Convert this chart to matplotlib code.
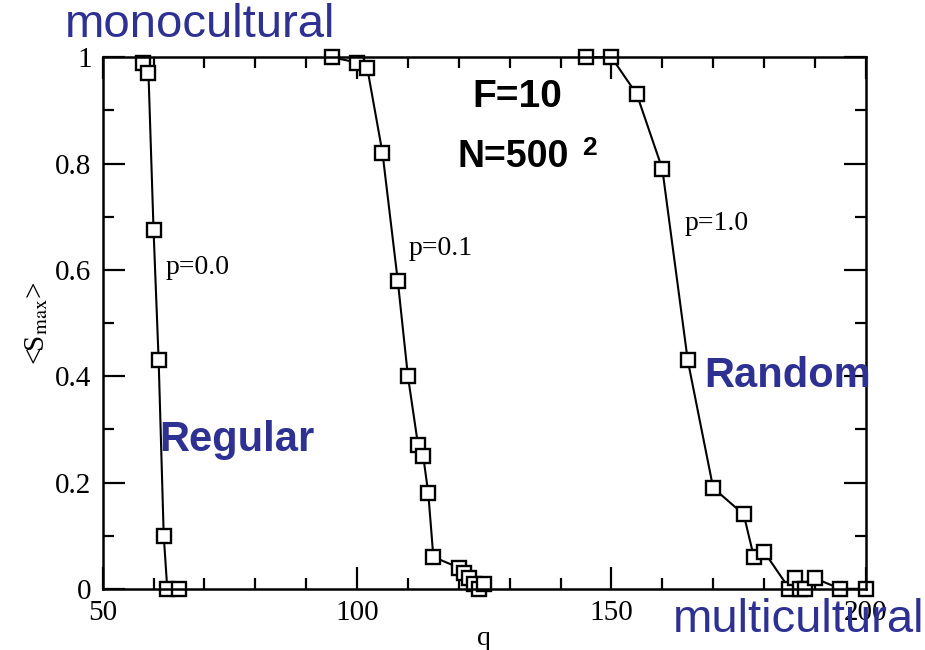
"""
Largest cultural domain <S_max> vs q for three rewiring probabilities
"""

import matplotlib
matplotlib.use("Agg")
import matplotlib.pyplot as plt
from matplotlib.ticker import MultipleLocator

# ---------- data ----------

q_p00 = [58, 59, 60, 61, 62, 62.7, 65]
s_p00 = [0.99, 0.97, 0.675, 0.43, 0.10, 0.0, 0.0]

q_p01 = [95, 100, 102, 105, 108, 110, 112, 113, 114, 115,
         120, 121, 122, 123, 124, 125]
s_p01 = [1.0, 0.99, 0.98, 0.82, 0.58, 0.40, 0.27, 0.25, 0.18, 0.06,
         0.04, 0.03, 0.02, 0.01, 0.0, 0.01]

q_p10 = [145, 150, 155, 160, 165, 170, 176, 178, 180,
         185, 186, 187, 188, 190, 195, 200]
s_p10 = [1.0, 1.0, 0.93, 0.79, 0.43, 0.19, 0.14, 0.06, 0.07,
         0.0, 0.02, 0.0, 0.0, 0.02, 0.0, 0.0]

x_ticks = [50, 100, 150, 200]
y_ticks = [0, 0.2, 0.4, 0.6, 0.8, 1.0]
y_tick_labels = ["0", "0.2", "0.4", "0.6", "0.8", "1"]

BLUE = "#2E3192"

# ---------- plot ----------

plt.rcParams["font.family"] = ["Liberation Serif", "DejaVu Serif"]
plt.rcParams["mathtext.fontset"] = "stix"

fig = plt.figure(figsize=(9.25, 6.5), dpi=100)
ax = fig.add_axes([0.111, 0.094, 0.825, 0.818])

for q, s in [(q_p00, s_p00), (q_p01, s_p01), (q_p10, s_p10)]:
    ax.plot(q, s, color="black", linewidth=1.5, marker="s",
            markersize=10, markerfacecolor="white",
            markeredgecolor="black", markeredgewidth=1.7, clip_on=False)

ax.set_xlim(50, 200)
ax.set_ylim(0, 1)
ax.set_xticks(x_ticks)
ax.set_yticks(y_ticks)
ax.set_yticklabels(y_tick_labels)
ax.xaxis.set_minor_locator(MultipleLocator(10))
ax.yaxis.set_minor_locator(MultipleLocator(0.1))
ax.tick_params(which="both", direction="in", top=True, right=True,
               width=1.6, labelsize=21, pad=8)
ax.tick_params(which="major", length=16)
ax.tick_params(which="minor", length=8)
for sp in ax.spines.values():
    sp.set_linewidth(1.8)

ax.set_xlabel("q", fontsize=20, labelpad=0)
ax.set_ylabel(r"<S$_{\rm max}$>", fontsize=21, labelpad=4)

# curve labels
ax.text(62.3, 0.605, "p=0.0", fontsize=20, va="center")
ax.text(110.2, 0.64, "p=0.1", fontsize=20, va="center")
ax.text(164.3, 0.687, "p=1.0", fontsize=20, va="center")

sans = ["Liberation Sans", "DejaVu Sans"]
ax.text(131.5, 0.926, "F=10", fontsize=28, fontweight="bold",
        family=sans, ha="center", va="center")
ax.text(119.7, 0.812, "N=500", fontsize=27, fontweight="bold",
        family=sans, ha="left", va="center")
ax.text(144.3, 0.83, "2", fontsize=19, fontweight="bold",
        family=sans, ha="left", va="center")

ax.text(61.2, 0.28, "Regular", fontsize=30, fontweight="bold",
        color=BLUE, family=sans, va="center")
ax.text(168.3, 0.40, "Random", fontsize=30, fontweight="bold",
        color=BLUE, family=sans, va="center")

fig.text(0.216, 0.962, "monocultural", fontsize=34, color=BLUE,
         family=sans, ha="center", va="center")
fig.text(0.863, 0.046, "multicultural", fontsize=34, color=BLUE,
         family=sans, ha="center", va="center")

fig.savefig("out.png", dpi=100)
plt.close(fig)
